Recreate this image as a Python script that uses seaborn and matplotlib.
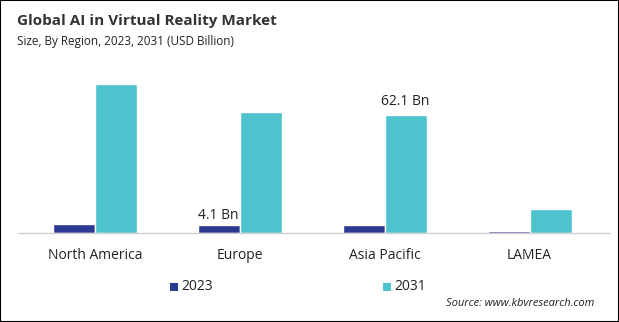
import matplotlib
matplotlib.use("Agg")
import matplotlib.pyplot as plt
import seaborn as sns
import pandas as pd
from matplotlib.patches import Rectangle

regions = ["North America", "Europe", "Asia Pacific", "LAMEA"]
years = ["2023", "2031"]
values_2023 = [4.8, 4.1, 4.0, 0.8]
values_2031 = [78.4, 63.6, 62.1, 12.6]
colors = ["#2B3990", "#4EC3CE"]

df = pd.DataFrame({
    "Region": regions * 2,
    "Year": [years[0]] * 4 + [years[1]] * 4,
    "Value": values_2023 + values_2031,
})

sns.set_theme(style="white")
plt.rcParams['font.family'] = ['Open Sans', 'DejaVu Sans']

fig = plt.figure(figsize=(6.19, 3.22), dpi=100)
ax = fig.add_axes([18/619, 1-233/322, 592/619, (233-60)/322])
sns.barplot(data=df, x="Region", y="Value", hue="Year", palette=colors,
            width=0.58, ax=ax, legend=False, saturation=1)
ax.set_xlim(-0.53, 3.555)
ax.set_ylim(0, (233-60)*0.526)
for s in ["top", "right", "left"]:
    ax.spines[s].set_visible(False)
ax.spines["bottom"].set_color("#D0D0D0")
ax.spines["bottom"].set_linewidth(1)
ax.set_yticks([])
ax.set_xlabel("")
ax.set_ylabel("")
ax.tick_params(axis="x", length=0, pad=11, labelsize=10, colors="#222222")

# annotations
ax.text(1 - 0.145, values_2023[1] + 1.2, "4.1 Bn", ha="center", va="bottom", fontsize=10, color="#222222")
ax.text(2 + 0.145, values_2031[2] + 3.3, "62.1 Bn", ha="center", va="bottom", fontsize=10, color="#222222")

fig.text(17/619, 1-21/322, "Global AI in Virtual Reality Market", fontsize=11, fontweight="bold",
         color="#333333", va="center")
fig.text(17/619, 1-42/322, "Size, By Region, 2023, 2031 (USD Billion)", fontsize=8.5,
         color="#222222", va="center")

# legend
for x0, lab, c in [(170, "2023", colors[0]), (383, "2031", colors[1])]:
    fig.patches.append(Rectangle((x0/619, 1-291/322), 8/619, 8/322, transform=fig.transFigure,
                                 facecolor=c, edgecolor="none"))
    fig.text((x0+11)/619, 1-287/322, lab, fontsize=10, va="center", color="#222222")

fig.text(594/619, 1-303/322, "Source: www.kbvresearch.com", fontsize=8, style="italic",
         ha="right", va="center", color="#222222")

fig.patches.append(Rectangle((0, 0), 1, 1, transform=fig.transFigure, fill=False,
                             edgecolor="black", linewidth=1.5))
fig.savefig("out.png", dpi=100)
